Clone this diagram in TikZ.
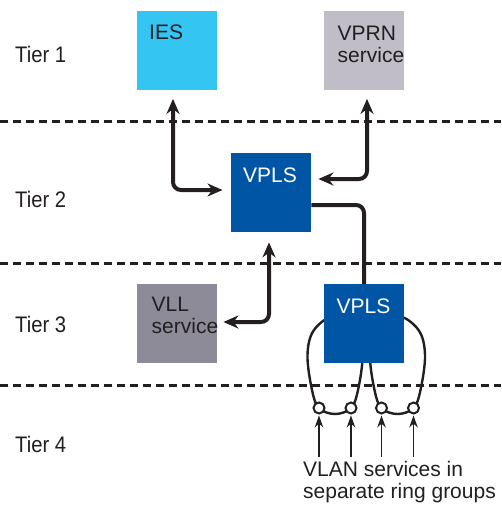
\documentclass[tikz,border=0pt]{standalone}
\usepackage{fontspec}
\setmainfont{Liberation Sans}
\newfontfamily\tierfont[FakeStretch=0.9]{Liberation Sans}
\usetikzlibrary{arrows.meta}
\definecolor{iesblue}{HTML}{35C5F3}
\definecolor{vprngrey}{HTML}{C0BDC6}
\definecolor{vplsblue}{HTML}{0055A5}
\definecolor{vllgrey}{HTML}{8D8B98}
\definecolor{ink}{HTML}{231F20}
\definecolor{txt}{HTML}{231F20}
\tikzset{
  box/.style={draw=none, minimum width=80pt, minimum height=79pt, inner sep=0pt, anchor=north west},
  lbl/.style={anchor=base west, inner sep=0pt, font=\fontsize{21}{22}\selectfont, text=txt, align=left},
  tierlbl/.style={anchor=base west, inner sep=0pt, font=\tierfont\fontsize{22.5}{18}\selectfont, text=txt},
  tierline/.style={ink, line width=2.6pt, dash pattern=on 8pt off 5pt},
  thickarrow/.style={ink, line width=4pt, rounded corners=8pt, {Stealth[length=15pt,width=13pt]}-{Stealth[length=15pt,width=13pt]}},
  thickline/.style={ink, line width=4pt, rounded corners=8pt},
  loopline/.style={ink, line width=2.4pt},
  ring/.style={circle, draw=ink, line width=2pt, fill=white, minimum size=11pt, inner sep=0pt},
  thinarrow/.style={ink, line width=1.4pt, -{Stealth[length=12pt,width=8.5pt]}}
}
\begin{document}
\begin{tikzpicture}[x=1pt, y=-1pt]
\useasboundingbox (0,0) rectangle (501,505);

% tier separator lines
\draw[tierline] (0,121.5) -- (501,121.5);
\draw[tierline] (0,263.5) -- (501,263.5);
\draw[tierline] (0,385.5) -- (501,385.5);

% tier labels
\node[tierlbl] (t1) at (15,63) {Tier 1};
\node[tierlbl] (t2) at (15,207) {Tier 2};
\node[tierlbl] (t3) at (15,332) {Tier 3};
\node[tierlbl] (t4) at (15,452) {Tier 4};

% boxes
\node[box, fill=iesblue] (ies) at (137,11) {};
\node[box, fill=vprngrey] (vprn) at (324,11) {};
\node[box, fill=vplsblue] (vpls2) at (231,153) {};
\node[box, fill=vllgrey] (vll) at (137,284) {};

% loops (behind tier-3 VPLS)
\foreach \c in {335,397.5}{
  \draw[loopline] plot[smooth cycle, tension=0.6] coordinates {
    (\c,316) (\c-21,330) (\c-27.5,355) (\c-23,390) (\c-16,408) (\c,414)
    (\c+16,408) (\c+23,390) (\c+27.5,355) (\c+21,330)};
}
\node[box, fill=vplsblue] (vpls3) at (324,284) {};

% rings
\node[ring] (r1) at (319,408) {};
\node[ring] (r2) at (351,408) {};
\node[ring] (r3) at (381.5,408) {};
\node[ring] (r4) at (413.5,408) {};

% box texts (base anchor = last line)
\node[lbl] (iest) at (149,40) {IES};
\node[lbl] (vprnt) at (337.5,63) {VPRN\\service};
\node[lbl, text=white] (vpls2t) at (243,182) {VPLS};
\node[lbl] (vllt) at (151.5,333) {VLL\\service};
\node[lbl, text=white] (vpls3t) at (336.5,313) {VPLS};

% connectors
\coordinate (iesc) at (173,190);
\coordinate (vprnc) at (367,179);
\coordinate (vllc) at (269,322);
\coordinate (vplsc) at (364,205);
\draw[thickarrow] (ies.south -| iesc) ++(0,8.5) -- (iesc) -- ([xshift=-8.5pt]vpls2.west |- iesc);
\draw[thickarrow] (vprn.south -| vprnc) ++(0,8.5) -- (vprnc) -- ([xshift=7pt]vpls2.east |- vprnc);
\draw[thickarrow] ([yshift=-10pt]vpls2.south -| vllc) -- (vllc) -- ([xshift=6pt]vll.east |- vllc);
\draw[thickline] (vpls2.east |- vplsc) -- (vplsc) -- (vpls3.north -| vplsc);

% incoming VLAN arrows
\foreach \r in {r1,r2,r3,r4}{
  \draw[thinarrow] (\r.south) ++(0,42) -- ([yshift=-1pt]\r.south);
}
\node[lbl] (vlan) at (303,498) {VLAN services in\\separate ring groups};
\end{tikzpicture}
\end{document}
